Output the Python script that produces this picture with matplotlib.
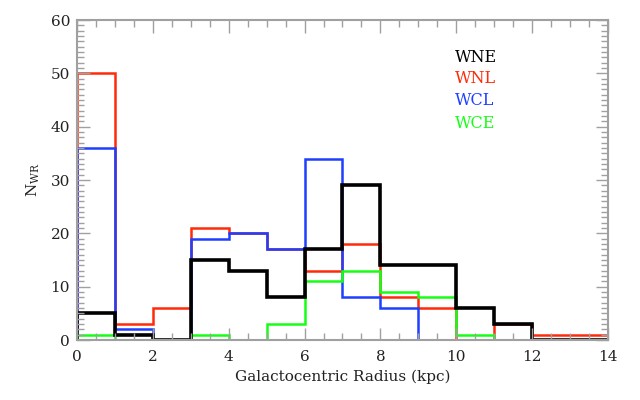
import numpy as np
import matplotlib
matplotlib.use("Agg")
import matplotlib.pyplot as plt
from matplotlib.ticker import MultipleLocator

edges = [0, 1, 2, 3, 4, 5, 6, 7, 8, 9, 10, 11, 12, 13, 14]
wne = [5, 1, 0, 15, 13, 8, 17, 29, 14, 14, 6, 3, 0, 0]
wnl = [50, 3, 6, 21, 20, 17, 13, 18, 8, 6, 0, 3, 1, 1]
wcl_edges = [0, 1, 2, 3, 4, 5, 6, 7, 8, 9, 9.5]
wcl = [36, 2, 0, 19, 20, 17, 34, 8, 6, 0]
wce = [1, 0, 0, 1, 0, 3, 11, 13, 9, 8, 1, 0, 0, 0]

labels = ["WNE", "WNL", "WCL", "WCE"]
colors = ["black", "#ff2a0a", "#1f3fff", "#14ff14"]

plt.rcParams['font.family'] = ['DejaVu Serif']
fig = plt.figure(figsize=(6.4, 4.0), dpi=100)
ax = fig.add_axes([77/640, 1-340/400, (608-77)/640, (340-20)/400])

ax.stairs(wnl, edges, color=colors[1], lw=1.8, baseline=0)
ax.stairs(wcl, wcl_edges, color=colors[2], lw=1.8, baseline=0)
ax.stairs(wce, edges, color=colors[3], lw=1.8, baseline=0)
ax.stairs(wne, edges, color=colors[0], lw=2.6, baseline=0)

ax.set_xlim(0, 14)
ax.set_ylim(0, 60)
ax.xaxis.set_major_locator(MultipleLocator(2))
ax.xaxis.set_minor_locator(MultipleLocator(0.5))
ax.yaxis.set_major_locator(MultipleLocator(10))
ax.yaxis.set_minor_locator(MultipleLocator(1))

gray = "#a0a0a0"
for s in ax.spines.values():
    s.set_color(gray)
    s.set_linewidth(1.5)
ax.tick_params(which='both', direction='in', top=True, right=True,
               color=gray, labelsize=11, labelcolor='#222222')
ax.tick_params(which='major', length=9, width=1)
ax.tick_params(which='minor', length=5, width=1)
ax.tick_params(axis='x', which='major', pad=7)
ax.tick_params(axis='y', which='major', pad=5)

ax.set_xlabel("Galactocentric Radius (kpc)", fontsize=11, color='#222222', labelpad=4)
ax.set_ylabel(r"N$_{\mathregular{WR}}$", fontsize=11, color='#222222', labelpad=6)

ys = [0.884, 0.816, 0.747, 0.678]
for lab, c, y in zip(labels, colors, ys):
    ax.text(0.712, y, lab, transform=ax.transAxes, color=c, fontsize=11.5,
            va='center', ha='left')

fig.savefig("out.png", dpi=100)
